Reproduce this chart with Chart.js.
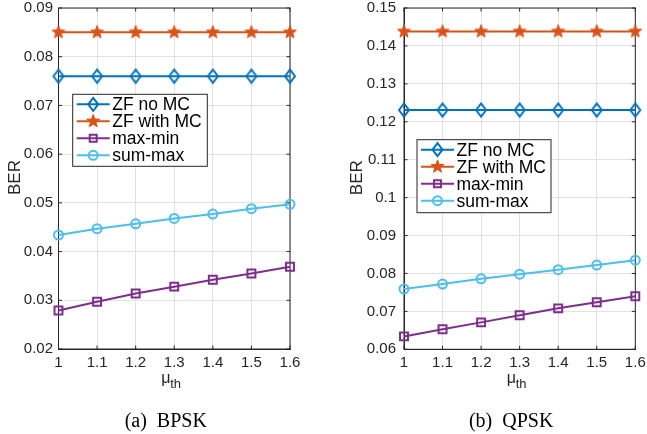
<!DOCTYPE html>
<html>
<head>
<meta charset="utf-8">
<title>BER vs mu_th</title>
<script src="https://cdn.jsdelivr.net/npm/chart.js@4.4.1/dist/chart.umd.min.js"></script>
<style>
    html, body { margin: 0; padding: 0; background: #fff; }
    #wrap { position: relative; width: 647px; height: 434px; }
    .pane { position: absolute; top: 0; height: 434px; }
    #paneA { left: 0; width: 323px; }
    #paneB { left: 323px; width: 324px; }
</style>
</head>
<body>
<div id="wrap">
    <div class="pane" id="paneA"><canvas id="chartA"></canvas></div>
    <div class="pane" id="paneB"><canvas id="chartB"></canvas></div>
</div>
<script>
// x axis (shared)
const muTh = [1, 1.1, 1.2, 1.3, 1.4, 1.5, 1.6];
const seriesNames = ['ZF no MC', 'ZF with MC', 'max-min', 'sum-max'];

// (a) BPSK
const bpskZfNoMc   = [0.076, 0.076, 0.076, 0.076, 0.076, 0.076, 0.076];
const bpskZfWithMc = [0.085, 0.085, 0.085, 0.085, 0.085, 0.085, 0.085];
const bpskMaxMin   = [0.0279, 0.0297, 0.0314, 0.0328, 0.0342, 0.0355, 0.0369];
const bpskSumMax   = [0.0434, 0.0447, 0.0457, 0.0468, 0.0477, 0.0488, 0.0497];
const bpskYTicks   = [0.02, 0.03, 0.04, 0.05, 0.06, 0.07, 0.08, 0.09];

// (b) QPSK
const qpskZfNoMc   = [0.1231, 0.1231, 0.1231, 0.1231, 0.1231, 0.1231, 0.1231];
const qpskZfWithMc = [0.1438, 0.1438, 0.1438, 0.1438, 0.1438, 0.1438, 0.1438];
const qpskMaxMin   = [0.0634, 0.0653, 0.0671, 0.0690, 0.0708, 0.0724, 0.0740];
const qpskSumMax   = [0.0759, 0.0772, 0.0786, 0.0798, 0.0810, 0.0822, 0.0835];
const qpskYTicks   = [0.06, 0.07, 0.08, 0.09, 0.1, 0.11, 0.12, 0.13, 0.14, 0.15];

// MATLAB default line colours
const colors = ['#0072BD', '#D95319', '#7E2F8E', '#4DBEEE'];
const markers = ['diamond', 'star', 'square', 'circle'];
const axisColor = '#262626';
const gridColor = '#e2e2e2';
const sansFont = "'Liberation Sans', Arial, sans-serif";
const serifFont = "'Liberation Serif', 'Times New Roman', serif";

Chart.defaults.font.family = sansFont;
Chart.defaults.font.size = 15;
Chart.defaults.color = axisColor;

function traceStar(g, x, y, r) {
    const inner = r * 0.42;
    g.beginPath();
    for (let i = 0; i < 10; i++) {
        const rr = i % 2 === 0 ? r : inner;
        const ang = -Math.PI / 2 + i * Math.PI / 5;
        const px = x + rr * Math.cos(ang);
        const py = y + rr * Math.sin(ang);
        if (i === 0) g.moveTo(px, py); else g.lineTo(px, py);
    }
    g.closePath();
}

// MATLAB diamonds are a bit taller than wide
function traceDiamond(g, x, y) {
    g.beginPath();
    g.moveTo(x - 5, y);
    g.lineTo(x, y - 6.5);
    g.lineTo(x + 5, y);
    g.lineTo(x, y + 6.5);
    g.closePath();
}

function makeImage(draw) {
    const c = document.createElement('canvas');
    c.width = 18;
    c.height = 18;
    draw(c.getContext('2d'), 9, 9);
    return c;
}

const starImage = makeImage((g, x, y) => {
    traceStar(g, x, y, 6.8);
    g.fillStyle = colors[1];
    g.fill();
    g.strokeStyle = colors[1];
    g.lineWidth = 1;
    g.stroke();
});

const diamondImage = makeImage((g, x, y) => {
    traceDiamond(g, x, y);
    g.strokeStyle = colors[0];
    g.lineWidth = 2;
    g.stroke();
});

// markers for the hand drawn legend
function drawMarker(ctx, kind, x, y, color) {
    ctx.save();
    ctx.strokeStyle = color;
    ctx.fillStyle = color;
    ctx.lineWidth = 2;
    if (kind === 'star') {
        traceStar(ctx, x, y, 6.8);
        ctx.fill();
        ctx.lineWidth = 1;
        ctx.stroke();
    } else {
        ctx.fillStyle = '#fff';
        if (kind === 'diamond') {
            traceDiamond(ctx, x, y);
        } else if (kind === 'square') {
            ctx.beginPath();
            ctx.rect(x - 3.5, y - 3.5, 7, 7);
        } else {
            ctx.beginPath();
            ctx.arc(x, y, 4.5, 0, Math.PI * 2);
        }
        ctx.stroke();
    }
    ctx.restore();
}

const decorPlugin = {
    id: 'decor',
    beforeDatasetsDraw(chart, args, opts) {
        const { ctx, chartArea: a, scales } = chart;
        const tickLen = 3.5;
        ctx.save();
        ctx.strokeStyle = axisColor;
        ctx.lineWidth = 1;
        ctx.strokeRect(a.left, a.top, a.right - a.left, a.bottom - a.top);
        ctx.beginPath();
        scales.x.ticks.forEach(t => {
            const px = scales.x.getPixelForValue(t.value);
            ctx.moveTo(px, a.bottom); ctx.lineTo(px, a.bottom - tickLen);
            ctx.moveTo(px, a.top); ctx.lineTo(px, a.top + tickLen);
        });
        scales.y.ticks.forEach(t => {
            const py = scales.y.getPixelForValue(t.value);
            ctx.moveTo(a.left, py); ctx.lineTo(a.left + tickLen, py);
            ctx.moveTo(a.right, py); ctx.lineTo(a.right - tickLen, py);
        });
        ctx.stroke();
        ctx.restore();
    },
    afterDraw(chart, args, opts) {
        const { ctx, chartArea: a } = chart;
        const midX = (a.left + a.right) / 2;
        const midY = (a.top + a.bottom) / 2;
        ctx.save();

        // legend box
        const bx = a.left + opts.legendDx;
        const by = a.top + opts.legendDy;
        ctx.fillStyle = '#fff';
        ctx.fillRect(bx, by, opts.legendW, opts.legendH);
        ctx.strokeStyle = axisColor;
        ctx.lineWidth = 1;
        ctx.strokeRect(bx, by, opts.legendW, opts.legendH);
        ctx.font = '17.5px ' + sansFont;
        ctx.textBaseline = 'middle';
        ctx.textAlign = 'left';
        seriesNames.forEach((name, i) => {
            const ry = by + 10 + i * 17;
            ctx.strokeStyle = colors[i];
            ctx.lineWidth = 2;
            ctx.beginPath();
            ctx.moveTo(bx + 4, ry);
            ctx.lineTo(bx + 37, ry);
            ctx.stroke();
            drawMarker(ctx, markers[i], bx + 20.5, ry, colors[i]);
            ctx.fillStyle = '#000';
            ctx.fillText(name, bx + 39.5, ry + 1);
        });

        // y label
        ctx.fillStyle = axisColor;
        ctx.save();
        ctx.translate(a.left + opts.berDx, midY - 1);
        ctx.rotate(-Math.PI / 2);
        ctx.textAlign = 'center';
        ctx.textBaseline = 'middle';
        ctx.font = '17px ' + sansFont;
        ctx.fillText('BER', 0, 0);
        ctx.restore();

        // x label  mu_th
        ctx.textBaseline = 'alphabetic';
        ctx.textAlign = 'left';
        ctx.font = '16px ' + sansFont;
        ctx.fillText('\u03bc', midX - 13, a.bottom + 34);
        ctx.font = '13px ' + sansFont;
        ctx.fillText('th', midX - 4, a.bottom + 39);

        // sub-figure caption
        ctx.fillStyle = '#000';
        ctx.textAlign = 'center';
        ctx.font = '20px ' + serifFont;
        ctx.fillText(opts.caption, midX - 8.5, 427);
        ctx.restore();
    }
};

function buildDatasets(series) {
    return series.map((vals, i) => ({
        label: seriesNames[i],
        data: muTh.map((x, k) => ({ x: x, y: vals[k] })),
        borderColor: colors[i],
        backgroundColor: colors[i],
        borderWidth: 2,
        pointStyle: [diamondImage, starImage, 'rect', 'circle'][i],
        pointRadius: [6, 6, 5.6, 4.5][i],
        pointBorderWidth: 2,
        pointBackgroundColor: 'rgba(255,255,255,0)',
        pointBorderColor: colors[i],
        clip: false,
        tension: 0
    }));
}

function makeChart(canvasId, series, yTicks, layout) {
    return new Chart(document.getElementById(canvasId), {
        type: 'line',
        data: { datasets: buildDatasets(series) },
        options: {
            responsive: true,
            maintainAspectRatio: false,
            animation: false,
            devicePixelRatio: 1,
            layout: { padding: { left: 0, top: layout.top, right: layout.right, bottom: 0 } },
            plugins: {
                legend: { display: false },
                tooltip: { enabled: false },
                decor: layout.decor
            },
            scales: {
                x: {
                    type: 'linear',
                    min: muTh[0],
                    max: muTh[muTh.length - 1],
                    afterBuildTicks: s => { s.ticks = muTh.map(v => ({ value: v })); },
                    afterFit: s => {
                        s.height = 434 - layout.bottom;
                        s.paddingLeft = 0; s.paddingRight = 0;
                    },
                    ticks: {
                        padding: 5,
                        maxRotation: 0,
                        autoSkip: false,
                        callback: v => String(Number(v.toFixed(1)))
                    },
                    grid: { color: gridColor, drawTicks: false },
                    border: { color: axisColor, width: 1 }
                },
                y: {
                    min: yTicks[0],
                    max: yTicks[yTicks.length - 1],
                    afterBuildTicks: s => { s.ticks = yTicks.map(v => ({ value: v })); },
                    afterFit: s => {
                        s.width = layout.left;
                        s.paddingTop = 0; s.paddingBottom = 0;
                    },
                    ticks: {
                        padding: layout.yPad,
                        autoSkip: false,
                        callback: v => String(Number(v.toFixed(2)))
                    },
                    grid: { color: gridColor, drawTicks: false },
                    border: { color: axisColor, width: 1 }
                }
            }
        },
        plugins: [decorPlugin]
    });
}

makeChart('chartA', [bpskZfNoMc, bpskZfWithMc, bpskMaxMin, bpskSumMax], bpskYTicks, {
    left: 58.5, top: 8, right: 33, bottom: 349, yPad: 5.5,
    decor: { caption: '(a)  BPSK', legendDx: 14.2, legendDy: 86.3, legendW: 134.6, legendH: 72, berDx: -43 }
});

makeChart('chartB', [qpskZfNoMc, qpskZfWithMc, qpskMaxMin, qpskSumMax], qpskYTicks, {
    left: 81, top: 7.3, right: 11.7, bottom: 349.3, yPad: 8,
    decor: { caption: '(b)  QPSK', legendDx: 13, legendDy: 131.7, legendW: 134, legendH: 73, berDx: -46.5 }
});
</script>
</body>
</html>
